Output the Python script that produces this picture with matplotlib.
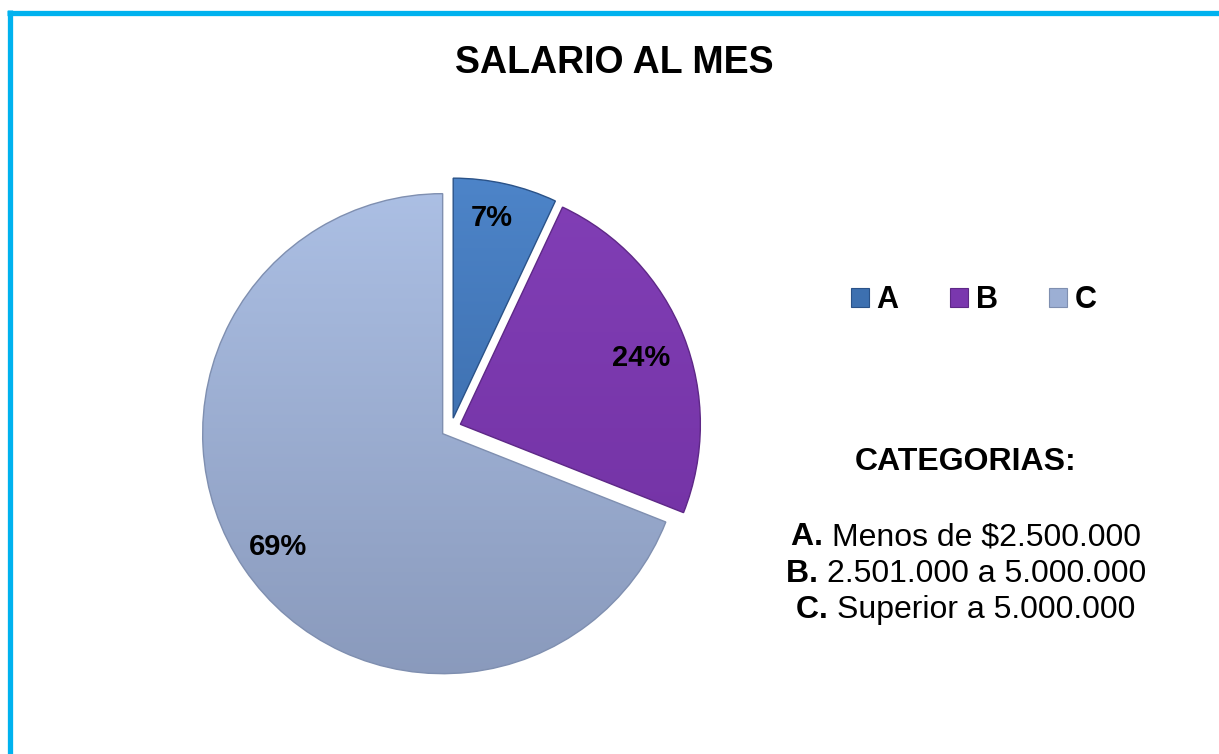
import numpy as np
import matplotlib.pyplot as plt
from matplotlib.patches import Patch
from matplotlib.lines import Line2D
from matplotlib.colors import LinearSegmentedColormap

plt.rcParams['font.family'] = ['Liberation Sans', 'DejaVu Sans']

# Data
categorias = ["A", "B", "C"]
porcentajes = [7, 24, 69]
descripciones = ["Menos de $2.500.000", "2.501.000 a 5.000.000", "Superior a 5.000.000"]

colores = ["#3D70B0", "#7A37AE", "#9CAFD4"]
grad_top = ["#4F87CC", "#8340B8", "#AFC3E8"]
grad_bot = ["#2F5C97", "#6E2E9E", "#8797B9"]
bordes = ["#2A5288", "#5E2887", "#7F8FB0"]

W, H = 1219, 754
fig = plt.figure(figsize=(W / 100, H / 100), dpi=100)
fig.patch.set_facecolor("white")

# cyan frame (top and left edges visible)
fig.add_artist(Line2D([7 / W, 1], [1 - 12.5 / H, 1 - 12.5 / H], color="#00B2EF", lw=3.8,
                      solid_capstyle="butt"))
fig.add_artist(Line2D([9.5 / W, 9.5 / W], [0, 1 - 10 / H], color="#00B2EF", lw=3.8,
                      solid_capstyle="butt"))

fig.text(614 / W, 1 - 63 / H, "SALARIO AL MES", ha="center", va="center",
         fontsize=27, fontweight="bold")

# pie axes: 600x600 px centered at (451, 428)
cx, cy, half = 451, 428, 300
ax = fig.add_axes([(cx - half) / W, (H - cy - half) / H, 2 * half / W, 2 * half / H])
ax.set_xlim(-1.25, 1.25)
ax.set_ylim(-1.25, 1.25)
ax.set_aspect("equal")
ax.axis("off")

wedges, _ = ax.pie(porcentajes, colors=colores, startangle=90, counterclock=False,
                   explode=[0.042] * 3, radius=1.0,
                   wedgeprops=dict(linewidth=1.0))

for w, top, bot, ec in zip(wedges, grad_top, grad_bot, bordes):
    w.set_edgecolor(ec)
    cmap = LinearSegmentedColormap.from_list("g", [bot, top])
    grad = np.linspace(0, 1, 256).reshape(-1, 1)
    im = ax.imshow(grad, cmap=cmap, extent=[-1.2, 1.2, -1.2, 1.2], origin="lower",
                   aspect="auto", zorder=w.get_zorder() - 0.1)
    im.set_clip_path(w)
    w.set_facecolor("none")

# percentage labels
label_pos = [(492, 218), (641, 358), (278, 547)]
for p, (lx, ly) in zip(porcentajes, label_pos):
    fig.text(lx / W, 1 - ly / H, f"{p}%", ha="center", va="center",
             fontsize=21, fontweight="bold")

# legend
handles = [Patch(facecolor=c, edgecolor=e, linewidth=0.8) for c, e in zip(colores, bordes)]
leg = fig.legend(handles, categorias, loc="center", bbox_to_anchor=(974 / W, 1 - 300 / H),
                 ncol=3, frameon=False, handlelength=0.56, handleheight=0.56,
                 handletextpad=0.26, columnspacing=1.7,
                 prop=dict(size=22, weight="bold"))

# category descriptions
fig.text(966 / W, 1 - 462 / H, "CATEGORIAS:", ha="center", va="center",
         fontsize=23, fontweight="bold")

# each line: bold "X." followed by regular text, centred as a whole
renderer = fig.canvas.get_renderer()
line_y = [537, 574, 610]
for cat, desc, ly in zip(categorias, descripciones, line_y):
    yf = 1 - ly / H
    t1 = fig.text(0, yf, cat + ". ", ha="left", va="center", fontsize=23, fontweight="bold")
    t2 = fig.text(0, yf, desc, ha="left", va="center", fontsize=23)
    w1 = t1.get_window_extent(renderer).width
    w2 = t2.get_window_extent(renderer).width
    x0 = 966 - (w1 + w2) / 2
    t1.set_x(x0 / W)
    t2.set_x((x0 + w1) / W)

fig.savefig("out.png", dpi=100, facecolor="white")
